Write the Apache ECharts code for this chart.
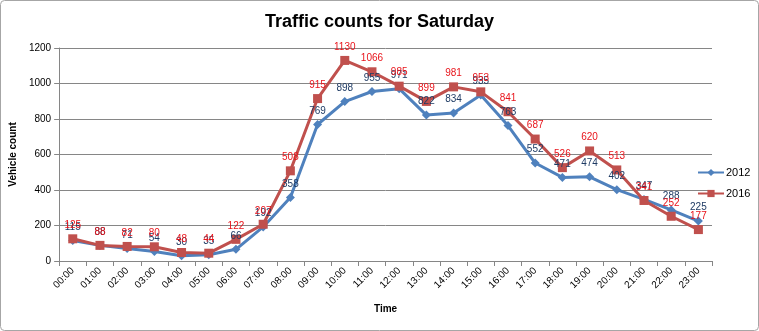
<!DOCTYPE html>
<html><head><meta charset="utf-8">
<script src="https://cdn.jsdelivr.net/npm/echarts@6/dist/echarts.min.js"></script>
<style>html,body{margin:0;padding:0;background:#fff}#c{width:759px;height:331px}</style>
</head><body><div id="c"></div>
<script>
const hours = ['00:00','01:00','02:00','03:00','04:00','05:00','06:00','07:00','08:00','09:00','10:00','11:00','12:00','13:00','14:00','15:00','16:00','17:00','18:00','19:00','20:00','21:00','22:00','23:00'];
const counts2012 = [115,88,71,54,30,35,66,192,358,769,898,955,971,822,834,935,763,552,471,474,402,347,288,225];
const counts2016 = [125,88,82,80,48,44,122,207,508,915,1130,1066,985,899,981,953,841,687,526,620,513,341,252,177];
const yTicks = {min:0, max:1200, interval:200};

const chart = echarts.init(document.getElementById('c'));
const lbl = c => ({show:true, position:'top', color:c, fontSize:10, fontFamily:'Liberation Sans, Arial', distance:4});
chart.setOption({
  animation:false,
  graphic:[{type:'rect', shape:{x:0.5,y:0.5,width:758,height:330,r:4}, style:{fill:'none', stroke:'#a6a6a6', lineWidth:1}}],
  title:{text:'Traffic counts for Saturday', left:'center', top:8, textStyle:{fontSize:18, fontWeight:'bold', color:'#000', fontFamily:'Liberation Sans, Arial'}},
  legend:{orient:'vertical', left:692, top:162, itemGap:10, itemWidth:26, itemHeight:9,
    textStyle:{fontSize:11, color:'#000', fontFamily:'Liberation Sans, Arial', padding:[0,0,0,-3]},
    data:['2012','2016']},
  grid:{left:56, right:47, top:48, bottom:70},
  xAxis:{type:'category', data:hours, boundaryGap:true, name:'Time', nameLocation:'middle', nameGap:43,
    nameTextStyle:{fontSize:10, fontWeight:'bold', color:'#000', fontFamily:'Liberation Sans, Arial'},
    axisLine:{lineStyle:{color:'#868686'}}, axisTick:{show:true, alignWithLabel:false, lineStyle:{color:'#868686'}},
    axisLabel:{rotate:45, fontSize:10, color:'#000', interval:0, fontFamily:'Liberation Sans, Arial'}},
  yAxis:{type:'value', min:yTicks.min, max:yTicks.max, interval:yTicks.interval, name:'Vehicle count', nameLocation:'middle', nameGap:34,
    nameTextStyle:{fontSize:10, fontWeight:'bold', color:'#000', fontFamily:'Liberation Sans, Arial'},
    axisLine:{show:true, lineStyle:{color:'#868686'}}, axisTick:{show:true, lineStyle:{color:'#868686'}},
    splitLine:{lineStyle:{color:'#868686'}},
    axisLabel:{fontSize:10, color:'#000', fontFamily:'Liberation Sans, Arial', formatter:v=>String(v)}},
  series:[
    {name:'2012', type:'line', data:counts2012, symbol:'diamond', symbolSize:9, showAllSymbol:true,
     lineStyle:{width:3, color:'#4F81BD'}, itemStyle:{color:'#4F81BD'}, label:lbl('#1F3B64')},
    {name:'2016', type:'line', data:counts2016, symbol:'rect', symbolSize:9, showAllSymbol:true,
     lineStyle:{width:3, color:'#C0504D'}, itemStyle:{color:'#C0504D'}, label:lbl('#E8141B')}
  ]
});
</script></body></html>
